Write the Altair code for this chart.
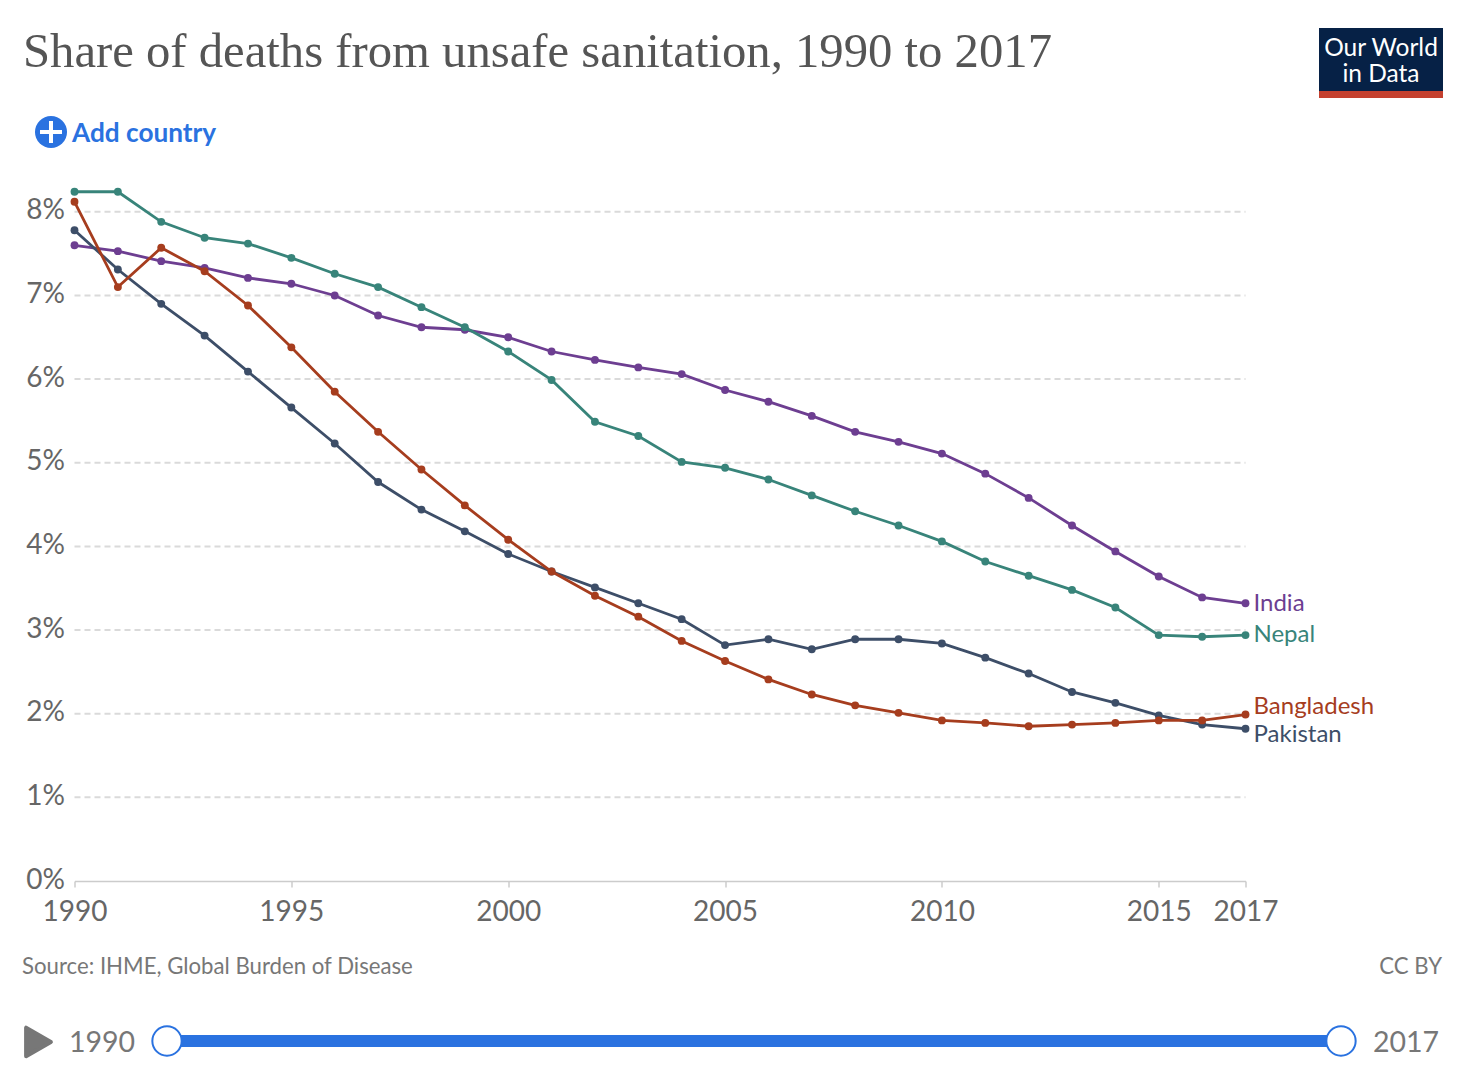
import altair as alt
import pandas as pd

years = list(range(1990, 2018))
india = [7.60,7.53,7.41,7.33,7.21,7.14,7.00,6.76,6.62,6.59,6.50,6.33,6.23,6.14,6.06,5.87,5.73,5.56,5.37,5.25,5.11,4.87,4.58,4.25,3.94,3.64,3.39,3.32]
nepal = [8.24,8.24,7.88,7.69,7.62,7.45,7.26,7.10,6.86,6.62,6.33,5.99,5.49,5.32,5.01,4.94,4.80,4.61,4.42,4.25,4.06,3.82,3.65,3.48,3.27,2.94,2.92,2.94]
pakistan = [7.78,7.31,6.90,6.52,6.09,5.66,5.23,4.77,4.44,4.18,3.91,3.70,3.51,3.32,3.13,2.82,2.89,2.77,2.89,2.89,2.84,2.67,2.48,2.26,2.13,1.98,1.87,1.82]
bangladesh = [8.12,7.10,7.57,7.29,6.88,6.38,5.85,5.37,4.92,4.49,4.08,3.70,3.41,3.16,2.87,2.63,2.41,2.23,2.10,2.01,1.92,1.89,1.85,1.87,1.89,1.92,1.92,1.99]

series = [("India", india, "#6D3E91"), ("Nepal", nepal, "#38847A"),
          ("Pakistan", pakistan, "#3D4E68"), ("Bangladesh", bangladesh, "#A63D1E")]
label_pos = {"India": 3.31, "Nepal": 2.94, "Pakistan": 1.75, "Bangladesh": 2.08}
grid_values = [1, 2, 3, 4, 5, 6, 7, 8]
x_ticks = [1990, 1995, 2000, 2005, 2010, 2015, 2017]
y_ticks = [0, 1, 2, 3, 4, 5, 6, 7, 8]

FONT = "Lato"
LEFT, TOP = 74.5, 170
PW, PH = 1171, 711
xs = alt.Scale(domain=[1990, 2017], nice=False, zero=False)
ys = alt.Scale(domain=[0, 8.5], nice=False)


def X(p):
    return alt.value(p - LEFT)


def Y(p):
    return alt.value(p - TOP)


def txt(s, x, y, size, color, align="left", font=FONT, **kw):
    return alt.Chart(pd.DataFrame({"t": [s]})).mark_text(
        align=align, baseline="middle", font=font, fontSize=size, color=color, **kw
    ).encode(x=X(x), y=Y(y), text="t:N")


blank = pd.DataFrame({"t": [0]})


def rect(x, x2, y, y2, color):
    return alt.Chart(blank).mark_rect(color=color).encode(x=X(x), x2=X(x2), y=Y(y), y2=Y(y2))


grid = alt.Chart(pd.DataFrame({"v": grid_values})).mark_rule(
    color="#dadada", strokeWidth=2, strokeDash=[6, 4]
).encode(y=alt.Y("v:Q", scale=ys), x=alt.value(0), x2=alt.value(PW))

axes = alt.Chart(pd.DataFrame({"year": years, "v": india})).mark_point(opacity=0).encode(
    x=alt.X("year:Q", scale=xs, title=None, axis=alt.Axis(
        values=x_ticks, format="d", grid=False, domainColor="#cccccc", domainWidth=1.5,
        tickColor="#cccccc", tickWidth=1.5, tickSize=6, labelFont=FONT, labelFontSize=28,
        labelColor="#666666", labelPadding=11, labelOverlap=False, labelFlush=False, zindex=1)),
    y=alt.Y("v:Q", scale=ys, title=None, axis=alt.Axis(
        values=y_ticks, format=".0f", labelExpr="datum.value + '%'", grid=False, domain=False,
        ticks=False, labelFont=FONT, labelFontSize=28, labelColor="#666666", labelPadding=10,
        labelOffset=-1)),
)

layers = [grid, axes]
for name, vals, col in series:
    df = pd.DataFrame({"year": years, "v": vals})
    base = alt.Chart(df).encode(x=alt.X("year:Q", scale=xs), y=alt.Y("v:Q", scale=ys))
    layers.append(base.mark_line(color=col, strokeWidth=2.8))
    layers.append(base.mark_circle(color=col, size=62, opacity=1))
    ldf = pd.DataFrame({"year": [2017], "v": [label_pos[name]], "n": [name]})
    layers.append(alt.Chart(ldf).mark_text(
        align="left", baseline="middle", dx=8, font=FONT, fontSize=24, color=col
    ).encode(x=alt.X("year:Q", scale=xs), y=alt.Y("v:Q", scale=ys), text="n:N"))

# header
layers.append(txt("Share of deaths from unsafe sanitation, 1990 to 2017", 23, 52, 48.7, "#555555", font="Liberation Serif"))
layers.append(rect(1319, 1443, 28, 91, "#062146"))
layers.append(rect(1319, 1443, 91, 98, "#C4402F"))
layers.append(txt("Our World", 1381, 48.5, 24.5, "#ffffff", align="center"))
layers.append(txt("in Data", 1381, 75, 24.5, "#ffffff", align="center"))

# add country
layers.append(alt.Chart(blank).mark_circle(color="#2A72E0", size=1024, opacity=1).encode(x=X(51), y=Y(132)))
layers.append(rect(40, 62, 130, 134, "#ffffff"))
layers.append(rect(49, 53, 121, 143, "#ffffff"))
layers.append(txt("Add country", 72, 134, 26.2, "#2A72E0", fontWeight="bold"))

# footer
layers.append(txt("Source: IHME, Global Burden of Disease", 22, 967, 22.2, "#777777"))
layers.append(txt("CC BY", 1442, 967, 22.2, "#777777", align="right"))

# timeline
layers.append(alt.Chart(blank).mark_point(shape="triangle-right", filled=True, color="#777777", stroke="#777777",
                                          strokeWidth=4, strokeJoin="round", size=820, opacity=1).encode(x=X(38.5), y=Y(1042)))
layers.append(txt("1990", 69, 1043, 28.5, "#777777"))
layers.append(txt("2017", 1439, 1043, 28.5, "#777777", align="right"))
layers.append(rect(167, 1341, 1035, 1047, "#2A72E0"))
for cx in (167, 1341):
    layers.append(alt.Chart(blank).mark_point(shape="circle", filled=True, fill="#ffffff", stroke="#2A72E0",
                                              strokeWidth=2, size=860, opacity=1).encode(x=X(cx), y=Y(1041)))

chart = alt.layer(*layers).properties(
    width=PW, height=PH,
    autosize=alt.AutoSizeParams(type="none"),
    padding={"left": LEFT - 8, "top": TOP - 8, "right": 218, "bottom": 184},
).configure_view(stroke=None)

chart.save("out.html", embed_options={"renderer": "svg", "actions": False})
